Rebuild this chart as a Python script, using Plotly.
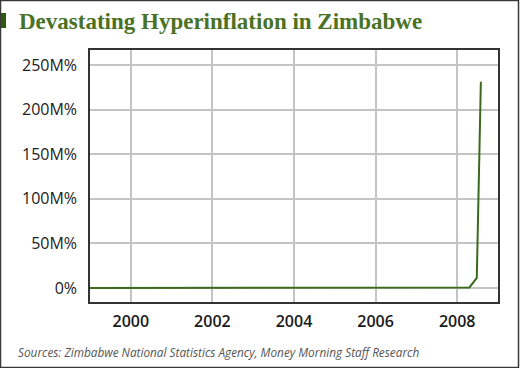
import plotly.graph_objects as go

# Zimbabwe annual inflation (%), then monthly 2008 (decimal years)
years = [1999, 2000, 2001, 2002, 2003, 2004, 2005, 2006, 2007, 2008.0, 2008.1, 2008.2, 2008.3, 2008.48, 2008.58]
inflation = [57, 55, 112, 199, 599, 133, 586, 1281, 66212, 100580, 164900, 417823, 650599, 11268759, 231150888]
x_ticks = [2000, 2002, 2004, 2006, 2008]
y_ticks = [0, 50e6, 100e6, 150e6, 200e6, 250e6]
y_tick_labels = ["0%", "50M%", "100M%", "150M%", "200M%", "250M%"]

title_text = "Devastating Hyperinflation in Zimbabwe"
source_text = "Sources: Zimbabwe National Statistics Agency, Money Morning Staff Research"

W, H = 520, 368
L, R, T, B = 90, 22, 50, 66
pw, ph = W - L - R, H - T - B

fig = go.Figure()
fig.add_trace(go.Scatter(x=years, y=inflation, mode="lines",
                         line=dict(color="#3b6a1c", width=2), hoverinfo="skip"))

def px_to_paper_x(px):
    return (px - L) / pw

def px_to_paper_y(py):
    return (H - B - py) / ph

fig.update_layout(
    width=W, height=H,
    margin=dict(l=L, r=R, t=T, b=B),
    paper_bgcolor="white", plot_bgcolor="white",
    showlegend=False,
    xaxis=dict(range=[1999, 2009], tickvals=x_ticks, ticktext=[str(v) for v in x_ticks],
               showgrid=True, gridcolor="#c4c4c4", gridwidth=1.5,
               showline=True, linecolor="#333333", linewidth=1.5, mirror=True,
               zeroline=False, ticks="", ticklabelstandoff=4,
               tickfont=dict(family="Open Sans", size=16, color="#1a1a1a", weight=600)),
    yaxis=dict(range=[-15.7e6, 266.8e6], tickvals=y_ticks, ticktext=y_tick_labels,
               showgrid=True, gridcolor="#c4c4c4", gridwidth=1.5,
               showline=True, linecolor="#333333", linewidth=1.5, mirror=True,
               zeroline=False, ticks="", ticklabelstandoff=8,
               tickfont=dict(family="Open Sans", size=16, color="#222222")),
    shapes=[
        # outer frame
        dict(type="rect", xref="paper", yref="paper",
             x0=px_to_paper_x(0.5), x1=px_to_paper_x(W - 1.5),
             y0=px_to_paper_y(H - 0.5), y1=px_to_paper_y(0.5),
             line=dict(color="#3a3a3a", width=1.5), fillcolor="rgba(0,0,0,0)", layer="below"),
        # green marker at left of title
        dict(type="rect", xref="paper", yref="paper",
             x0=px_to_paper_x(1), x1=px_to_paper_x(6),
             y0=px_to_paper_y(28), y1=px_to_paper_y(13),
             line=dict(width=0), fillcolor="#2f5a12"),
    ],
    annotations=[
        dict(text="<b>" + title_text + "</b>", xref="paper", yref="paper",
             x=px_to_paper_x(17), y=px_to_paper_y(22), xanchor="left", yanchor="middle",
             showarrow=False, font=dict(family="Liberation Serif", size=23, color="#4a7224")),
        dict(text="<i>" + source_text + "</i>", xref="paper", yref="paper",
             x=px_to_paper_x(16), y=px_to_paper_y(352), xanchor="left", yanchor="middle",
             showarrow=False, font=dict(family="Open Sans", size=11.8, color="#555555")),
    ],
)

fig.write_html("out.html", config={"displayModeBar": False},
               post_script="document.body.style.margin='0';document.body.style.overflow='hidden';")
